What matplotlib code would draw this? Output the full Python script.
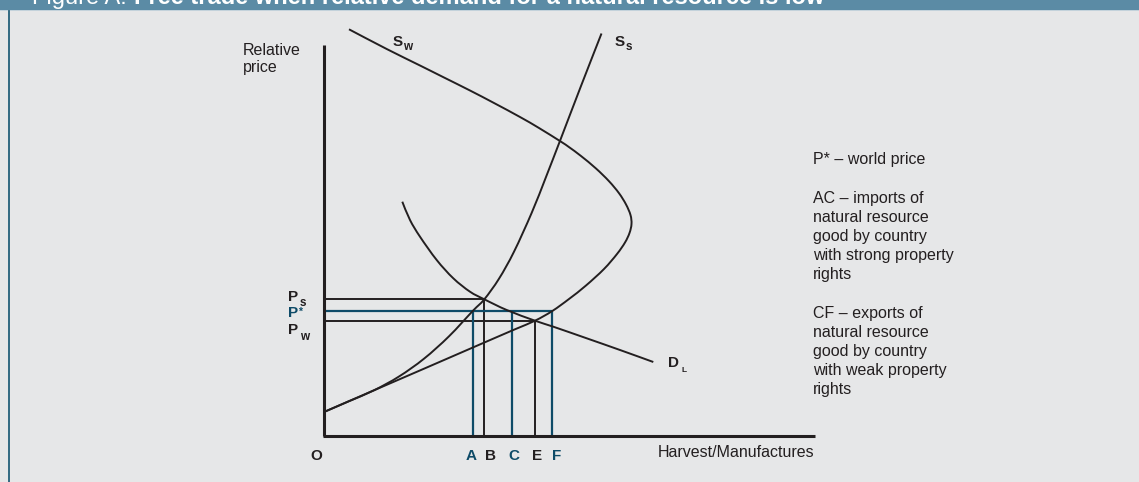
import matplotlib
matplotlib.use("Agg")
import matplotlib.pyplot as plt
from matplotlib.patches import Rectangle, PathPatch
from matplotlib.lines import Line2D
from matplotlib.path import Path

plt.rcParams["font.family"] = ["Liberation Sans", "DejaVu Sans"]

# quantity (x) / relative price (y), origin at the corner of the axes
ss_x = [0, 25, 50, 75, 100, 125, 148.7, 160.3, 175, 190, 207.7, 222, 236.7, 257, 277.5]
ss_y = [24, 34.8, 45.7, 59.5, 77.3, 99.7, 125, 136.7, 157.3, 184.3, 223.2, 259, 297, 350, 402.5]

sw_x = [0, 50, 100, 150, 190, 211, 228.3, 245, 262, 280, 293, 301, 305.5, 307.5, 306.5,
        302, 295, 285, 272, 257, 245, 236.7, 215, 196, 170, 146, 120, 96, 62.7, 25]
sw_y = [24, 45.7, 67.3, 89, 106.3, 115.3, 125, 137, 150.5, 167, 182, 193.5, 203, 212, 221,
        231.6, 242.8, 254.8, 267.5, 280, 288.9, 294.5, 308, 319, 333, 345.5, 358.5, 370.5, 387, 406.7]

dl_x = [78.3, 86, 96, 112.7, 129.3, 146, 160.3, 182.7, 211, 229.3, 262.7, 296, 329.3]
dl_y = [234.3, 216, 199.3, 176, 157.7, 144.3, 136.7, 126, 115.3, 109.3, 97.7, 86, 74]

# price levels: Ps, P*, Pw
price_y = [136.7, 125.0, 115.3]
price_end = [160.3, 228.3, 211.0]
price_blue = [False, True, False]

# quantities A B C E F
qty_labels = ["A", "B", "C", "E", "F"]
qty_x = [148.7, 160.3, 187.7, 211.0, 228.3]
qty_top = [125.0, 136.7, 125.0, 115.3, 125.0]
qty_blue = [True, False, True, False, True]
qty_label_x = [147, 166.5, 189.5, 213, 232.5]

notes_top = ["P* \u2013 world price"]
notes_ac = ["AC \u2013 imports of", "natural resource", "good by country",
            "with strong property", "rights"]
notes_cf = ["CF \u2013 exports of", "natural resource", "good by country",
            "with weak property", "rights"]

BG = "#e6e7e8"
INK = "#231f20"
BLUE = "#0e4b68"


def smooth_path(xs, ys):
    """Catmull-Rom through the read points, drawn as cubic Bezier segments."""
    pts = list(zip(xs, ys))
    verts = [pts[0]]
    codes = [Path.MOVETO]
    for i in range(len(pts) - 1):
        p0 = pts[i - 1] if i > 0 else pts[i]
        p1, p2 = pts[i], pts[i + 1]
        p3 = pts[i + 2] if i + 2 < len(pts) else pts[i + 1]
        c1 = (p1[0] + (p2[0] - p0[0]) / 6, p1[1] + (p2[1] - p0[1]) / 6)
        c2 = (p2[0] - (p3[0] - p1[0]) / 6, p2[1] - (p3[1] - p1[1]) / 6)
        verts += [c1, c2, p2]
        codes += [Path.CURVE4] * 3
    return Path(verts, codes)


fig = plt.figure(figsize=(11.39, 4.82), dpi=100, facecolor=BG)
ax = fig.add_axes([0, 0, 1, 1])
ax.set_xlim(-324, 815)
ax.set_ylim(-46, 436)
ax.axis("off")

# header band (title mostly cropped off the top) and left rule
fig.patches.append(Rectangle((0, 1 - 9.5 / 482), 1, 9.5 / 482, transform=fig.transFigure,
                             facecolor="#5b8ba5", edgecolor="none"))
fig.patches.append(Rectangle((0, 1 - 10.5 / 482), 1, 1 / 482, transform=fig.transFigure,
                             facecolor="#c3d2db", edgecolor="none"))
fig.lines.append(Line2D([8.7 / 1139, 8.7 / 1139], [0, 1 - 10.5 / 482], transform=fig.transFigure,
                        color="#245f7a", lw=1.3))
t1 = fig.text(32 / 1139, 1 - 4 / 482, "Figure A:", color="white", fontsize=17,
              va="baseline", ha="left")
fig.canvas.draw()
bb = t1.get_window_extent()
fig.text(bb.x1 / 1139 + 7 / 1139, 1 - 4 / 482,
         "Free trade when relative demand for a natural resource is low",
         color="white", fontsize=17, fontweight="bold", va="baseline", ha="left")

# guide lines
for y, xe, blue in zip(price_y, price_end, price_blue):
    ax.plot([0, xe], [y, y], color=BLUE if blue else INK, lw=1.6 if blue else 1.4,
            solid_capstyle="butt", zorder=3 if blue else 2)
for x, yt, blue in zip(qty_x, qty_top, qty_blue):
    ax.plot([x, x], [0, yt], color=BLUE if blue else INK, lw=1.6 if blue else 1.4,
            solid_capstyle="butt", zorder=3 if blue else 2)

# curves
for xs, ys in [(ss_x, ss_y), (sw_x, sw_y), (dl_x, dl_y)]:
    ax.add_patch(PathPatch(smooth_path(xs, ys), facecolor="none", edgecolor=INK,
                           lw=1.4, capstyle="butt", zorder=4))

# axes
ax.plot([0, 0], [0, 391], color=INK, lw=2.2, solid_capstyle="butt", zorder=5)
ax.plot([-1, 491], [0, 0], color=INK, lw=2.2, solid_capstyle="butt", zorder=5)

# labels
ax.text(-81, 381, "Relative", fontsize=11.5, color=INK, va="baseline")
ax.text(-81, 364, "price", fontsize=11.5, color=INK, va="baseline")
ax.text(490, -21.3, "Harvest/Manufactures", fontsize=11.5, color=INK, va="baseline", ha="right")

ax.text(-8, -24.5, "O", fontsize=11, fontweight="bold", color=INK, va="baseline", ha="center")
for lab, lx, blue in zip(qty_labels, qty_label_x, qty_blue):
    ax.text(lx, -24.5, lab, fontsize=11, fontweight="bold", color=BLUE if blue else INK,
            va="baseline", ha="center")

ax.text(-36, 135.3, "P", fontsize=11, fontweight="bold", color=INK, va="baseline")
ax.text(-24, 130.5, "s", fontsize=8.5, fontweight="bold", color=INK, va="baseline")
ax.text(-36, 118.7, "P", fontsize=11, fontweight="bold", color=BLUE, va="baseline")
ax.text(-25.5, 121.5, "*", fontsize=7.5, fontweight="bold", color=BLUE, va="baseline")
ax.text(-36, 102, "P", fontsize=11, fontweight="bold", color=INK, va="baseline")
ax.text(-24, 96, "w", fontsize=8.5, fontweight="bold", color=INK, va="baseline")

ax.text(69, 390, "S", fontsize=11, fontweight="bold", color=INK, va="baseline")
ax.text(79.5, 386, "w", fontsize=8.5, fontweight="bold", color=INK, va="baseline")
ax.text(291, 390, "S", fontsize=11, fontweight="bold", color=INK, va="baseline")
ax.text(301.5, 386, "s", fontsize=8.5, fontweight="bold", color=INK, va="baseline")
ax.text(344, 69, "D", fontsize=11, fontweight="bold", color=INK, va="baseline")
ax.text(357, 63.7, "L", fontsize=6, fontweight="bold", color=INK, va="baseline")

# notes on the right
for i, line in enumerate(notes_top):
    ax.text(489, 436 - 164.3 - i * 19, line, fontsize=11.5, color=INK, va="baseline")
for i, line in enumerate(notes_ac):
    ax.text(489, 436 - 202.7 - i * 19, line, fontsize=11.5, color=INK, va="baseline")
for i, line in enumerate(notes_cf):
    ax.text(489, 436 - 318.3 - i * 19, line, fontsize=11.5, color=INK, va="baseline")

fig.savefig("out.png", dpi=100, facecolor=BG)
